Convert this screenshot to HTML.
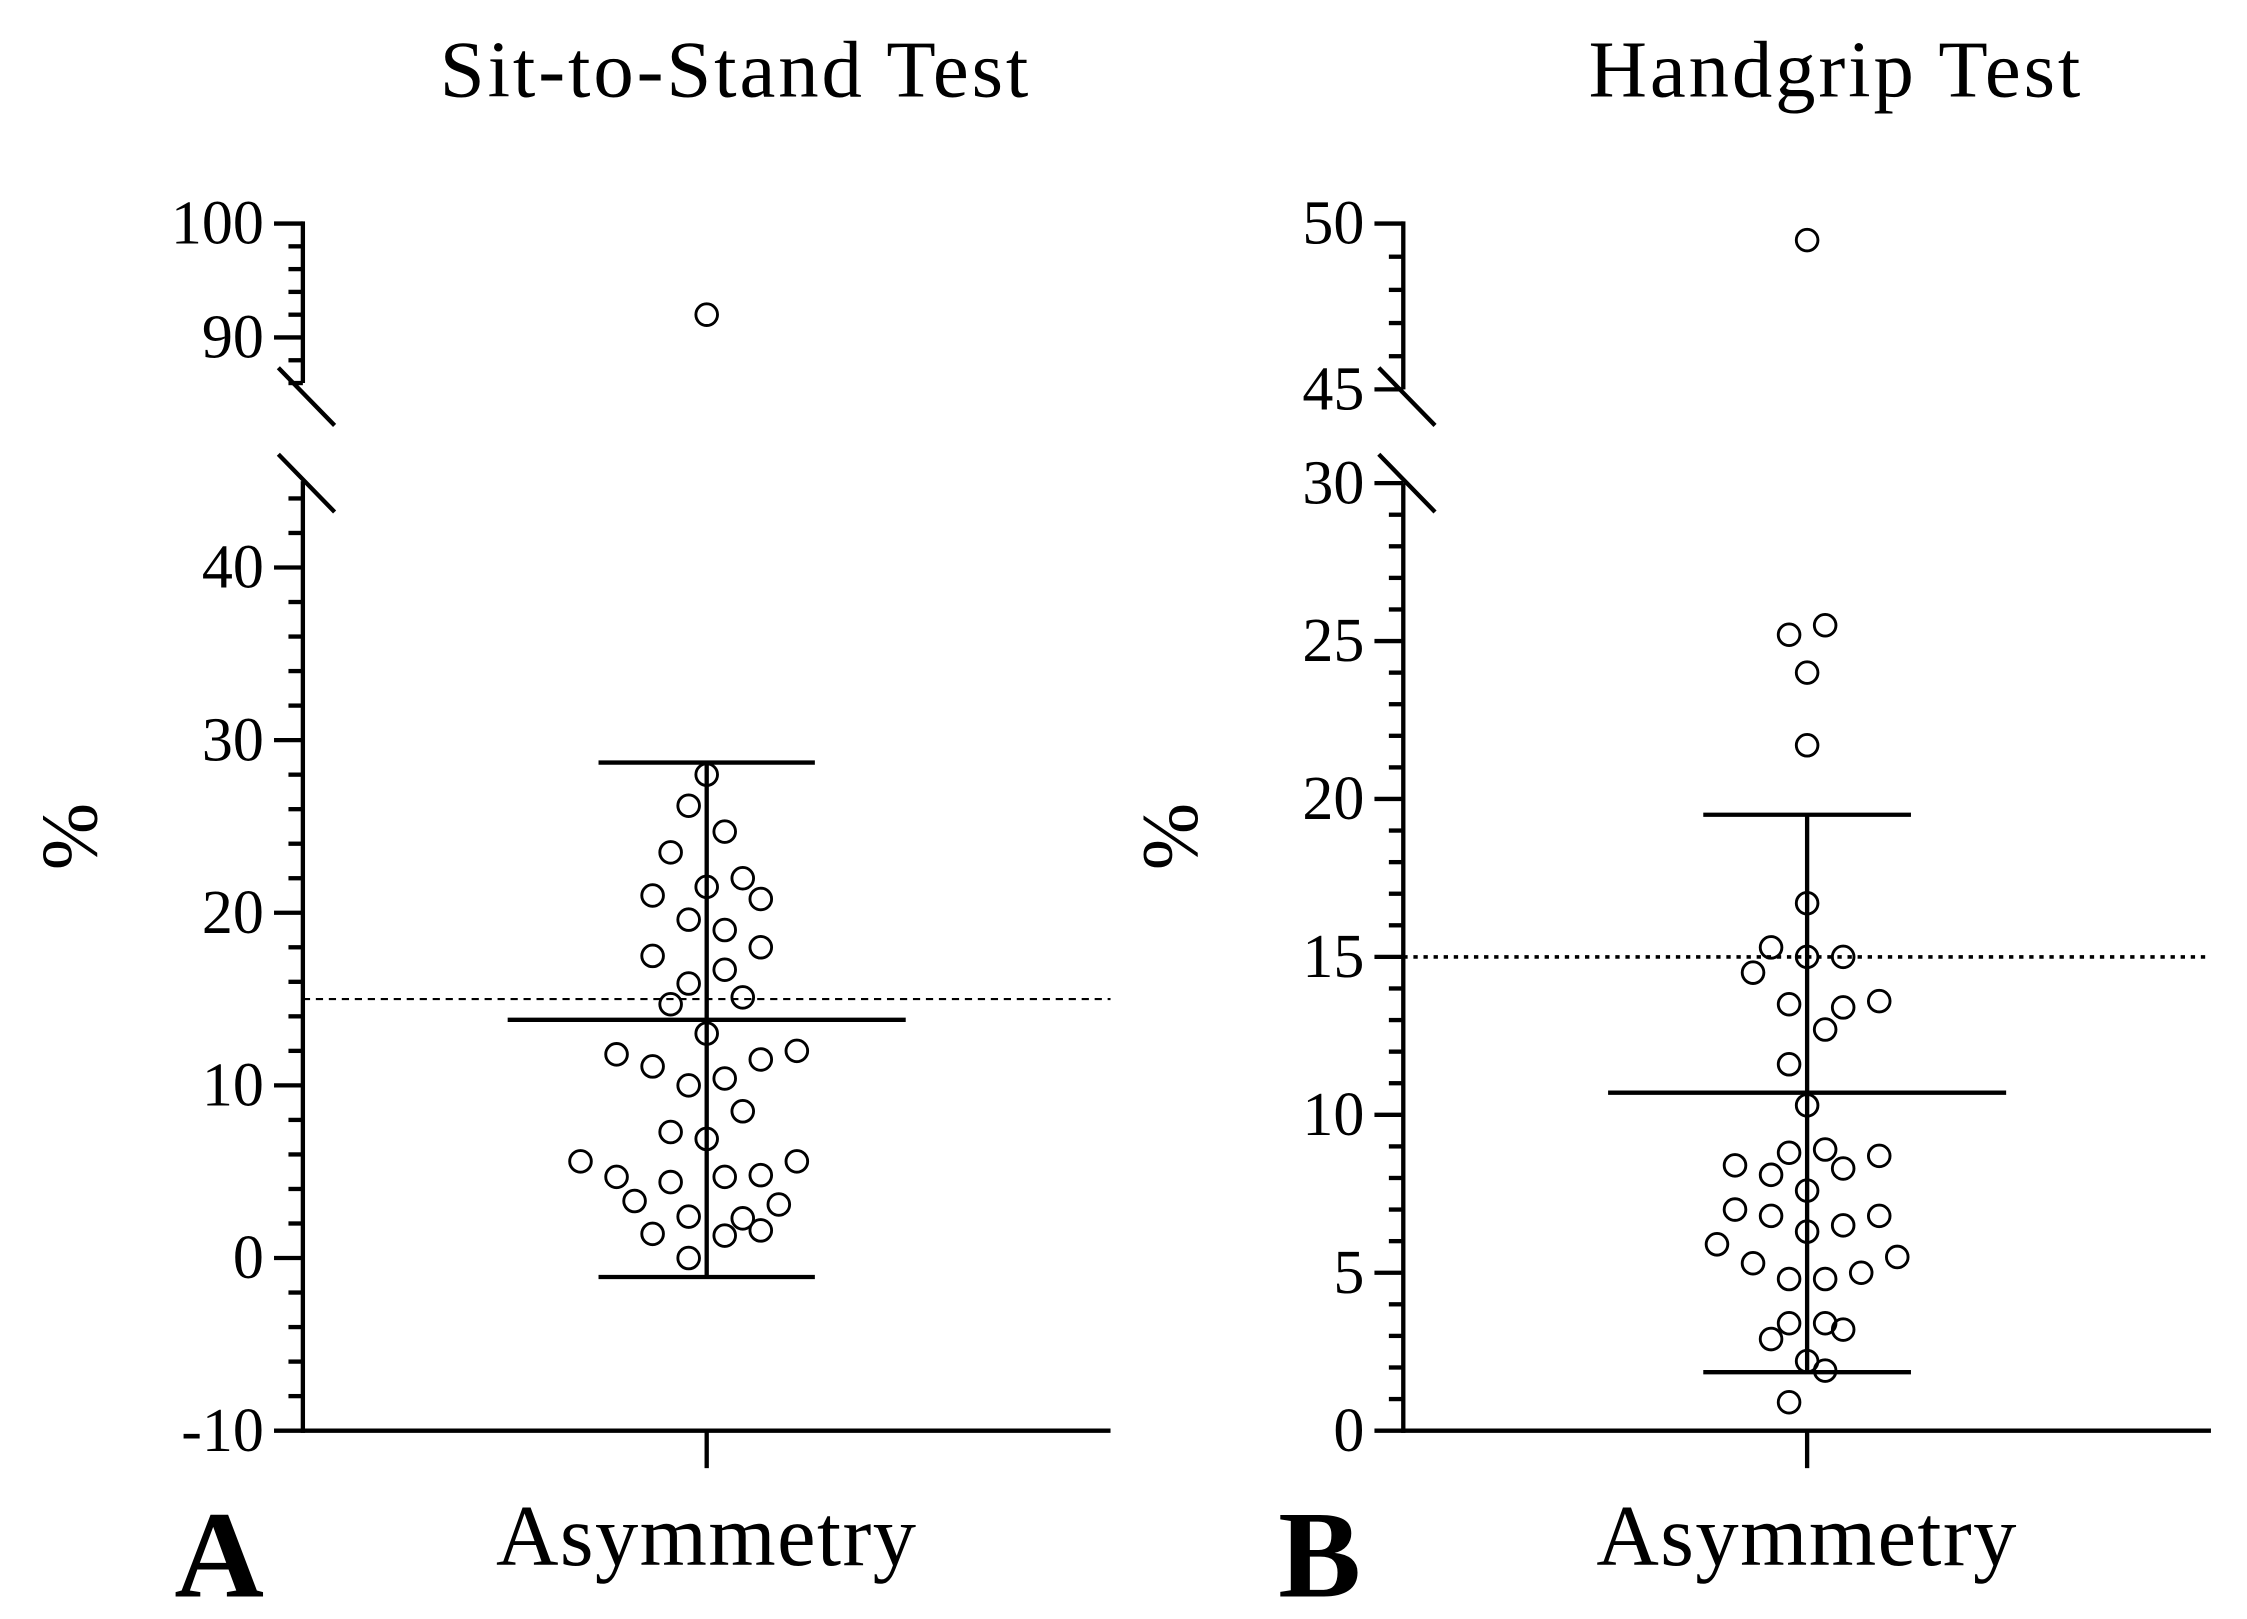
<!DOCTYPE html>
<html><head><meta charset="utf-8">
<style>
html,body{margin:0;padding:0;background:#fff;}
svg{display:block;}
text{font-family:"Liberation Serif",serif;fill:#000;}
</style></head>
<body>
<svg id="chart" width="2247" height="1619" viewBox="0 0 1558 1122.6" preserveAspectRatio="none" xmlns="http://www.w3.org/2000/svg">
<g id="gA"></g>
<g id="gB"></g>
</svg>
<script>
// Panel A data (Sit-to-Stand), values in %, col = swarm column index
const aValues = [92,28,26.2,24.7,23.5,22,21.5,20.8,21,19.6,19,18,17.5,16.7,15.9,14.7,15.1,13,11.8,11.1,11.5,12,10,10.4,8.5,7.3,6.9,5.6,4.7,4.4,4.7,4.8,5.6,3.3,3.1,2.4,2.3,1.4,1.3,1.6,0];
const aCols = [0,0,-1,1,-2,2,0,3,-3,-1,1,3,-3,1,-1,-2,2,0,-5,-3,3,5,-1,1,2,-2,0,-7,-5,-2,1,3,5,-4,4,-1,2,-3,1,3,-1];
const aStats = {mean:13.8, sdHigh:28.7, sdLow:-1.1, threshold:15};
const aTicksLow = ["-10","0","10","20","30","40"];
const aTicksHigh = ["90","100"];
// Panel B data (Handgrip)
const bValues = [49.5,25.2,25.5,24,21.7,16.7,15.3,15,15,14.5,13.5,13.4,13.6,12.7,11.6,10.3,8.8,8.9,8.7,8.4,8.1,8.3,7.6,7,6.8,6.3,6.5,6.8,5.9,5.3,4.8,4.8,5,5.5,3.4,3.4,3.2,2.9,2.2,1.9,0.9];
const bCols = [0,-1,1,0,0,0,-2,0,2,-3,-1,2,4,1,-1,0,-1,1,4,-4,-2,2,0,-4,-2,0,2,4,-5,-3,-1,1,3,5,-1,1,2,-2,0,1,-1];
const bStats = {mean:10.7, sdHigh:19.5, sdLow:1.85, threshold:15};
const bTicksLow = ["0","5","10","15","20","25","30"];
const bTicksHigh = ["45","50"];

const NS="http://www.w3.org/2000/svg";
function mk(parent,tag,attrs,txt){const e=document.createElementNS(NS,tag);for(const k in attrs)e.setAttribute(k,attrs[k]);if(txt!==undefined)e.textContent=txt;parent.appendChild(e);return e;}

function panel(g,cfg){
  const ax=cfg.ax, cx=ax+280, right=ax+560, bottom=992;
  const yLow=v=>bottom-(v-cfg.lowMin)*cfg.lowScale;
  const yHigh=v=>cfg.highTopY+(cfg.highMax-v)*cfg.highScale;
  const y=v=>v>cfg.lowMax?yHigh(v):yLow(v);
  const sx=c=>cx+c*12.5;
  let t=mk(g,'text',{x:cx+20,y:67,'font-size':56,'letter-spacing':2,'text-anchor':'middle'},cfg.title);
  
  
  let yl=mk(g,'line',{x1:ax,y1:yLow(cfg.lowMax),x2:ax,y2:bottom+1.5,stroke:'#000','stroke-width':3});
  
  
  let yh=mk(g,'line',{x1:ax,y1:cfg.highTopY-1.5,x2:ax,y2:yHigh(cfg.highMin),stroke:'#000','stroke-width':3});
  
  
  let xl=mk(g,'line',{x1:ax,y1:bottom,x2:right,y2:bottom,stroke:'#000','stroke-width':3});
  
  
  mk(g,'line',{x1:cx,y1:bottom,x2:cx,y2:1018,stroke:'#000','stroke-width':3});
  [cfg.brk1,cfg.brk2].forEach(by=>{
    let b=mk(g,'line',{x1:ax-17,y1:by-20,x2:ax+22,y2:by+20,stroke:'#000','stroke-width':3});
    
    
  });
  for(let v=cfg.lowMin; v<=cfg.lowMax+1e-9; v+=cfg.minor){
    const major=Math.abs(v/cfg.major-Math.round(v/cfg.major))<1e-6;
    mk(g,'line',{x1:major?ax-20:ax-10,y1:yLow(v),x2:ax,y2:yLow(v),stroke:'#000','stroke-width':3});
  }
  for(let v=cfg.highMin; v<=cfg.highMax+1e-9; v+=cfg.minor){
    const major=Math.abs(v/cfg.majorHigh-Math.round(v/cfg.majorHigh))<1e-6;
    mk(g,'line',{x1:major?ax-20:ax-10,y1:yHigh(v),x2:ax,y2:yHigh(v),stroke:'#000','stroke-width':3});
  }
  cfg.ticksLow.forEach(s=>{
    let l=mk(g,'text',{x:ax-27,y:yLow(+s)+14,'font-size':43,'text-anchor':'end'},s);
    
    
  });
  cfg.ticksHigh.forEach(s=>{
    let l=mk(g,'text',{x:ax-27,y:yHigh(+s)+14,'font-size':43,'text-anchor':'end'},s);
    
    
  });
  let yt=mk(g,'text',{x:0,y:0,'font-size':56,'text-anchor':'middle',transform:`translate(${ax-143},580) rotate(-90)`},'%');
  
  
  let xt=mk(g,'text',{x:cx,y:1085,'font-size':60,'letter-spacing':1,'text-anchor':'middle'},'Asymmetry');
  
  
  let pl=mk(g,'text',{x:ax-58,y:1107,'font-size':86,'font-weight':'bold','text-anchor':'middle'},cfg.letter);
  
  
  let th=mk(g,'line',{x1:ax,y1:y(cfg.stats.threshold),x2:right,y2:y(cfg.stats.threshold),stroke:'#000','stroke-width':cfg.dotW,'stroke-dasharray':cfg.dash});
  
  
  const s=cfg.stats;
  let eb=mk(g,'line',{x1:cx,y1:y(s.sdHigh),x2:cx,y2:y(s.sdLow),stroke:'#000','stroke-width':3});
  
  
  [s.sdHigh,s.sdLow].forEach(v=>{
    let c=mk(g,'line',{x1:cx-cfg.capW,y1:y(v),x2:cx+cfg.capW,y2:y(v),stroke:'#000','stroke-width':3});
    
    
  });
  let mn=mk(g,'line',{x1:cx-138,y1:y(s.mean),x2:cx+138,y2:y(s.mean),stroke:'#000','stroke-width':3});
  
  
  cfg.values.forEach((v,i)=>{
    let p=mk(g,'circle',{cx:sx(cfg.cols[i]),cy:y(v),r:7.5,fill:'none',stroke:'#000','stroke-width':2});
    
    
  });
}

panel(document.getElementById('gA'),{ax:210,title:'Sit-to-Stand Test',letter:'A',
  lowMin:-10,lowMax:45,lowScale:11.97,highMin:86,highMax:100,highTopY:155,highScale:7.9,
  minor:2,major:10,majorHigh:10,brk1:275,brk2:335,capW:75,dash:'5,4',dotW:1.5,
  values:aValues,cols:aCols,stats:aStats,ticksLow:aTicksLow,ticksHigh:aTicksHigh});
panel(document.getElementById('gB'),{ax:973,title:'Handgrip Test',letter:'B',
  lowMin:0,lowMax:30,lowScale:21.9,highMin:45,highMax:50,highTopY:155,highScale:23,
  minor:1,major:5,majorHigh:5,brk1:275,brk2:335,capW:72,dash:'3,4',dotW:2.5,
  values:bValues,cols:bCols,stats:bStats,ticksLow:bTicksLow,ticksHigh:bTicksHigh});
</script>
</body></html>
